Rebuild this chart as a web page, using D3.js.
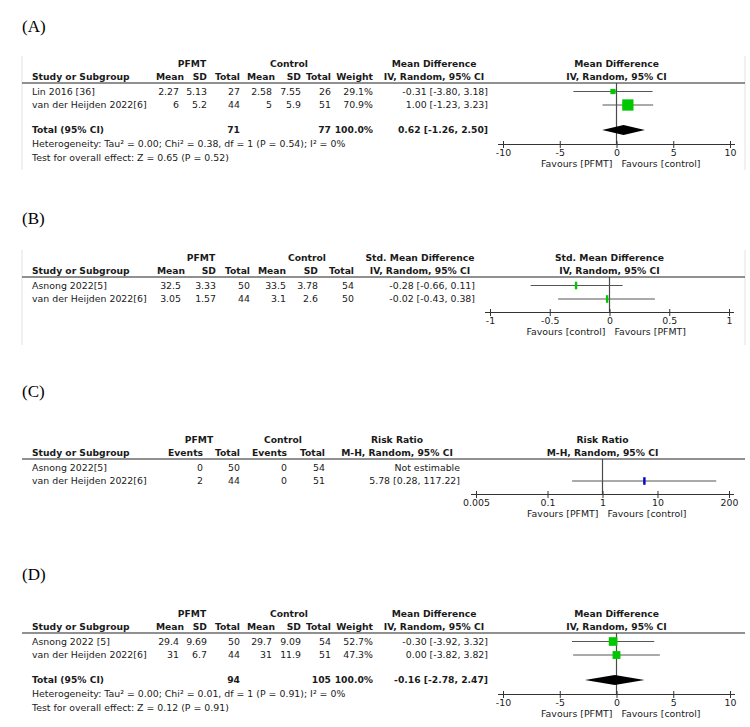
<!DOCTYPE html>
<html><head><meta charset="utf-8">
<script src="https://cdn.jsdelivr.net/npm/d3@7"></script>
<style>
body{margin:0;background:#fff;}
svg text{font-family:"DejaVu Sans",sans-serif;font-size:9.4px;fill:#1a1a1a;}
svg text.lbl{font-family:"Liberation Serif","Times New Roman",serif;font-size:17px;fill:#000;}
svg text.b{font-weight:bold;font-size:9.2px;}
</style></head><body>
<svg id="c" width="750" height="727"></svg>
<script>
// ---------- Panel A : Mean Difference ----------
const studiesA = ["Lin 2016 [36]", "van der Heijden 2022[6]"];
const pfmtMeanA = ["2.27", "6"], pfmtSdA = ["5.13", "5.2"], pfmtNA = ["27", "44"];
const ctrlMeanA = ["2.58", "5"], ctrlSdA = ["7.55", "5.9"], ctrlNA = ["26", "51"];
const weightA = [29.1, 70.9];
const estA = [-0.31, 1.00], lowA = [-3.80, -1.23], highA = [3.18, 3.23];
const totalA = [0.62, -1.26, 2.50], totalNA = ["71", "77"];
const hetA = "Heterogeneity: Tau² = 0.00; Chi² = 0.38, df = 1 (P = 0.54); I² = 0%";
const testA = "Test for overall effect: Z = 0.65 (P = 0.52)";
const ticksA = [-10, -5, 0, 5, 10], tickLabelsA = ["-10", "-5", "0", "5", "10"];

// ---------- Panel B : Std. Mean Difference ----------
const studiesB = ["Asnong 2022[5]", "van der Heijden 2022[6]"];
const pfmtMeanB = ["32.5", "3.05"], pfmtSdB = ["3.33", "1.57"], pfmtNB = ["50", "44"];
const ctrlMeanB = ["33.5", "3.1"], ctrlSdB = ["3.78", "2.6"], ctrlNB = ["54", "50"];
const estB = [-0.28, -0.02], lowB = [-0.66, -0.43], highB = [0.11, 0.38];
const ticksB = [-1, -0.5, 0, 0.5, 1], tickLabelsB = ["-1", "-0.5", "0", "0.5", "1"];

// ---------- Panel C : Risk Ratio ----------
const studiesC = ["Asnong 2022[5]", "van der Heijden 2022[6]"];
const pfmtEvC = ["0", "2"], pfmtNC = ["50", "44"];
const ctrlEvC = ["0", "0"], ctrlNC = ["54", "51"];
const estC = [null, 5.78], lowC = [null, 0.28], highC = [null, 117.22];
const ticksC = [0.005, 0.1, 1, 10, 200], tickLabelsC = ["0.005", "0.1", "1", "10", "200"];

// ---------- Panel D : Mean Difference ----------
const studiesD = ["Asnong 2022 [5]", "van der Heijden 2022[6]"];
const pfmtMeanD = ["29.4", "31"], pfmtSdD = ["9.69", "6.7"], pfmtND = ["50", "44"];
const ctrlMeanD = ["29.7", "31"], ctrlSdD = ["9.09", "11.9"], ctrlND = ["54", "51"];
const weightD = [52.7, 47.3];
const estD = [-0.30, 0.00], lowD = [-3.92, -3.82], highD = [3.32, 3.82];
const totalD = [-0.16, -2.78, 2.47], totalND = ["94", "105"];
const hetD = "Heterogeneity: Tau² = 0.00; Chi² = 0.01, df = 1 (P = 0.91); I² = 0%";
const testD = "Test for overall effect: Z = 0.12 (P = 0.91)";

const svg = d3.select("#c");
const f2 = v => d3.format(".2f")(v).replace("−", "-");
const ciText = (e, l, h) => `${f2(e)} [${f2(l)}, ${f2(h)}]`;
const sizeScale = d3.scaleLinear().domain([0, 100]).range([1, 15.5]);

function panel(o) {
  const g = svg.append("g");
  const R = o.rule;
  g.append("text").attr("class", "lbl").attr("x", 22).attr("y", o.labelY).text(o.label);
  if (o.frame) {
    [22, 745].forEach(x => g.append("line").attr("x1", x).attr("x2", x)
      .attr("y1", R - 27).attr("y2", o.frameEnd).attr("stroke", "#e2e2e2").attr("stroke-width", 1));
  }
  o.groups.forEach(gr => g.append("text").attr("class", "b").attr("x", gr.x).attr("y", R - 16)
    .attr("text-anchor", "middle").text(gr.text));
  g.append("text").attr("class", "b").attr("x", 32).attr("y", R - 3).text("Study or Subgroup");
  o.cols.forEach(c => g.append("text").attr("class", "b").attr("x", c.hx || c.x).attr("y", R - 3)
    .attr("text-anchor", "end").text(c.h));
  g.append("text").attr("class", "b").attr("x", o.ciHeadX).attr("y", R - 16).attr("text-anchor", "middle").text(o.measure);
  g.append("text").attr("class", "b").attr("x", o.ciHeadX).attr("y", R - 3).attr("text-anchor", "middle").text(o.method);
  const x = o.scale;
  const nullX = x(o.nullValue);
  g.append("text").attr("class", "b").attr("x", nullX).attr("y", R - 16).attr("text-anchor", "middle").text(o.measure);
  g.append("text").attr("class", "b").attr("x", nullX).attr("y", R - 3).attr("text-anchor", "middle").text(o.method);
  g.append("line").attr("x1", 22).attr("x2", 745).attr("y1", R).attr("y2", R)
    .attr("stroke", "#6b6b6b").attr("stroke-width", 1.3);

  const rowY = i => R + 8.5 + i * 13.5;
  o.rows.forEach((cells, i) => {
    g.append("text").attr("x", 32).attr("y", rowY(i) + 3.4).text(o.studies[i]);
    cells.forEach((t, j) => g.append("text").attr("x", o.cols[j].x).attr("y", rowY(i) + 3.4)
      .attr("text-anchor", "end").text(t));
    g.append("text").attr("x", o.ciRight).attr("y", rowY(i) + 3.4).attr("text-anchor", "end")
      .text(o.est[i] == null ? "Not estimable" : ciText(o.est[i], o.low[i], o.high[i]));
  });
  let axisY;
  if (o.total) {
    const ty = R + 47;
    g.append("text").attr("class", "b").attr("x", 32).attr("y", ty + 3.3).text("Total (95% CI)");
    g.append("text").attr("class", "b").attr("x", o.cols[2].x).attr("y", ty + 3.3).attr("text-anchor", "end").text(o.totalN[0]);
    g.append("text").attr("class", "b").attr("x", o.cols[5].x).attr("y", ty + 3.3).attr("text-anchor", "end").text(o.totalN[1]);
    g.append("text").attr("class", "b").attr("x", o.cols[6].x).attr("y", ty + 3.3).attr("text-anchor", "end").text("100.0%");
    g.append("text").attr("class", "b").attr("x", o.ciRight).attr("y", ty + 3.3).attr("text-anchor", "end")
      .text(ciText(o.total[0], o.total[1], o.total[2]));
    g.append("text").attr("x", 32).attr("y", ty + 17).text(o.het);
    g.append("text").attr("x", 32).attr("y", ty + 30.5).text(o.test);
    axisY = ty + 14.5;
  } else {
    axisY = rowY(1) + 13.5;
  }
  g.append("line").attr("x1", nullX).attr("x2", nullX).attr("y1", R).attr("y2", axisY)
    .attr("stroke", "#4a4a4a").attr("stroke-width", 1.2);
  o.est.forEach((e, i) => {
    if (e == null) return;
    g.append("line").attr("x1", x(o.low[i])).attr("x2", x(o.high[i])).attr("y1", rowY(i)).attr("y2", rowY(i))
      .attr("stroke", "#555").attr("stroke-width", 1);
    if (o.weight) {
      const s = sizeScale(o.weight[i]);
      g.append("rect").attr("x", x(e) - s / 2).attr("y", rowY(i) - s / 2).attr("width", s).attr("height", s)
        .attr("fill", o.color);
    } else {
      g.append("rect").attr("x", x(e) - 1.2).attr("y", rowY(i) - 3.8).attr("width", 2.4).attr("height", 7.6)
        .attr("fill", o.color);
    }
  });
  if (o.total) {
    const ty = R + 47;
    const pts = [[x(o.total[1]), ty], [x(o.total[0]), ty - 5], [x(o.total[2]), ty], [x(o.total[0]), ty + 5]];
    g.append("polygon").attr("points", pts.map(p => p.join(",")).join(" ")).attr("fill", "#000");
  }
  const ax = g.append("g").attr("transform", `translate(0,${axisY})`)
    .call(d3.axisBottom(x).tickValues(o.ticks).tickFormat((d, i) => o.tickLabels[i]).tickSize(3).tickPadding(1.5));
  ax.select(".domain").remove();
  ax.selectAll(".tick line").attr("y1", -3.5).attr("y2", 3.5).attr("stroke", "#333");
  ax.selectAll(".tick text").attr("font-family", "DejaVu Sans").attr("font-size", 9.4).attr("fill", "#1a1a1a");
  const r = x.range();
  ax.append("line").attr("x1", r[0] - 5).attr("x2", r[1] + 5).attr("y1", 0).attr("y2", 0)
    .attr("stroke", "#333").attr("stroke-width", 1);
  g.append("text").attr("x", nullX - 4).attr("y", axisY + 22).attr("text-anchor", "end").text(o.favL);
  g.append("text").attr("x", nullX + 5).attr("y", axisY + 22).attr("text-anchor", "start").text(o.favR);
}

const mdCols = [{x:179,hx:184,h:"Mean"},{x:207,h:"SD"},{x:240,h:"Total"},{x:272,hx:275,h:"Mean"},{x:301,h:"SD"},{x:331,h:"Total"},{x:373,h:"Weight"}];

panel({
  label: "(A)", labelY: 32, rule: 83, frame: true, frameEnd: 170,
  groups: [{text:"PFMT", x:192}, {text:"Control", x:289}],
  cols: mdCols, ciRight: 488, ciHeadX: 434,
  measure: "Mean Difference", method: "IV, Random, 95% CI",
  studies: studiesA,
  rows: studiesA.map((s, i) => [pfmtMeanA[i], pfmtSdA[i], pfmtNA[i], ctrlMeanA[i], ctrlSdA[i], ctrlNA[i], d3.format(".1f")(weightA[i]) + "%"]),
  est: estA, low: lowA, high: highA, weight: weightA, color: "#00c800",
  total: totalA, totalN: totalNA, het: hetA, test: testA,
  scale: d3.scaleLinear().domain([-10, 10]).range([503, 730]), nullValue: 0,
  ticks: ticksA, tickLabels: tickLabelsA, favL: "Favours [PFMT]", favR: "Favours [control]"
});

panel({
  label: "(B)", labelY: 224, rule: 277, frame: true, frameEnd: 345,
  groups: [{text:"PFMT", x:201}, {text:"Control", x:307}],
  cols: [{x:181,hx:185,h:"Mean"},{x:216,h:"SD"},{x:250,h:"Total"},{x:286,h:"Mean"},{x:318,h:"SD"},{x:354,h:"Total"}],
  ciRight: 475, ciHeadX: 420,
  measure: "Std. Mean Difference", method: "IV, Random, 95% CI",
  studies: studiesB,
  rows: studiesB.map((s, i) => [pfmtMeanB[i], pfmtSdB[i], pfmtNB[i], ctrlMeanB[i], ctrlSdB[i], ctrlNB[i]]),
  est: estB, low: lowB, high: highB, weight: null, color: "#00c800",
  scale: d3.scaleLinear().domain([-1, 1]).range([490, 729]), nullValue: 0,
  ticks: ticksB, tickLabels: tickLabelsB, favL: "Favours [control]", favR: "Favours [PFMT]"
});

panel({
  label: "(C)", labelY: 397, rule: 459, frame: false,
  groups: [{text:"PFMT", x:199}, {text:"Control", x:283}],
  cols: [{x:203,h:"Events"},{x:240,h:"Total"},{x:287,h:"Events"},{x:325,h:"Total"}],
  ciRight: 460, ciHeadX: 397,
  measure: "Risk Ratio", method: "M-H, Random, 95% CI",
  studies: studiesC,
  rows: studiesC.map((s, i) => [pfmtEvC[i], pfmtNC[i], ctrlEvC[i], ctrlNC[i]]),
  est: estC, low: lowC, high: highC, weight: null, color: "#0000d0",
  scale: d3.scaleLog().domain([0.005, 200]).range([476, 729]), nullValue: 1,
  ticks: ticksC, tickLabels: tickLabelsC, favL: "Favours [PFMT]", favR: "Favours [control]"
});

panel({
  label: "(D)", labelY: 580, rule: 633, frame: false,
  groups: [{text:"PFMT", x:192}, {text:"Control", x:289}],
  cols: mdCols, ciRight: 488, ciHeadX: 434,
  measure: "Mean Difference", method: "IV, Random, 95% CI",
  studies: studiesD,
  rows: studiesD.map((s, i) => [pfmtMeanD[i], pfmtSdD[i], pfmtND[i], ctrlMeanD[i], ctrlSdD[i], ctrlND[i], d3.format(".1f")(weightD[i]) + "%"]),
  est: estD, low: lowD, high: highD, weight: weightD, color: "#00c800",
  total: totalD, totalN: totalND, het: hetD, test: testD,
  scale: d3.scaleLinear().domain([-10, 10]).range([503, 730]), nullValue: 0,
  ticks: ticksA, tickLabels: tickLabelsA, favL: "Favours [PFMT]", favR: "Favours [control]"
});
</script>
</body></html>
